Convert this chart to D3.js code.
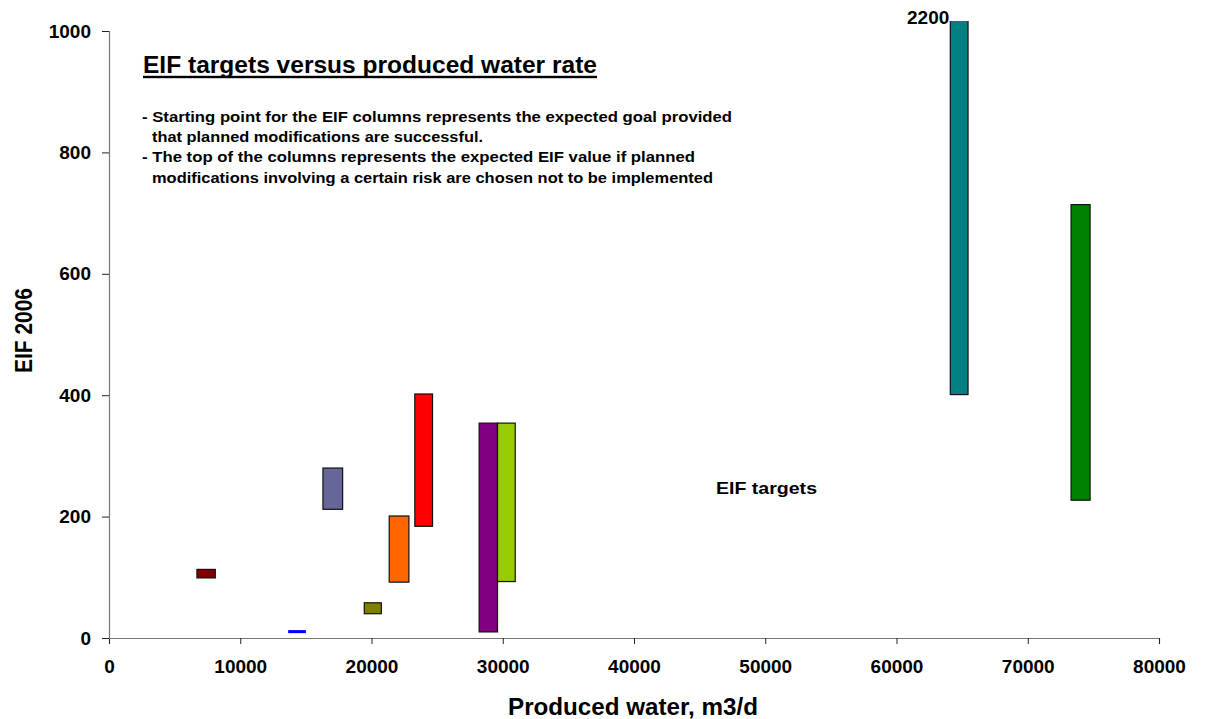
<!DOCTYPE html>
<html>
<head>
<meta charset="utf-8">
<script src="https://cdn.jsdelivr.net/npm/d3@7"></script>
<style>
  html, body { margin: 0; padding: 0; background: #fff; }
  text { font-family: Arial, "Liberation Sans", sans-serif; font-weight: bold; fill: #000; }
</style>
</head>
<body>
<svg id="chart" width="1206" height="719"></svg>
<script>
// ---- data ----
const xStart  = [6700, 13650, 16300, 19450, 21350, 23300, 28200, 29600, 64100, 73300];
const xEnd    = [8100, 15000, 17800, 20750, 22850, 24650, 29600, 30950, 65450, 74750];
const eifLow  = [99,   8,     212,   40,    92,    184,   10,    93,    401,   227];
const eifHigh = [113,  13,    280,   58,    201,   402,   354,   354,   2200,  714];
const barColors = ["#800000", "#0000FF", "#666699", "#808000", "#FF6600", "#FF0000", "#800080", "#99CC00", "#008080", "#008000"];
const barStroked = [true, false, true, true, true, true, true, true, true, true];
const xTicks = [0, 10000, 20000, 30000, 40000, 50000, 60000, 70000, 80000];
const yTicks = [0, 200, 400, 600, 800, 1000];

const titleText = "EIF targets versus produced water rate";
const noteLines = [
  "- Starting point for the EIF columns represents the expected goal provided",
  "that planned modifications are successful.",
  "- The top of the columns represents the expected EIF value if planned",
  "modifications involving a certain risk are chosen not to be implemented"
];
const xTitle = "Produced water, m3/d";
const yTitle = "EIF 2006";
const seriesLabel = "EIF targets";

// ---- layout ----
const svg = d3.select("#chart");
const margin = { left: 109, top: 31, right: 47, bottom: 81 };
const W = 1206, H = 719;
const x = d3.scaleLinear().domain([0, 80000]).range([margin.left, W - margin.right]);
const y = d3.scaleLinear().domain([0, 1000]).range([H - margin.bottom, margin.top]);

// clip (bars exceeding the axis get cut slightly above the top)
svg.append("defs").append("clipPath").attr("id", "plotClip")
  .append("rect")
  .attr("x", x(0)).attr("y", y(1000) - 10)
  .attr("width", x(80000) - x(0)).attr("height", y(0) - y(1000) + 10);

// ---- bars ----
const bars = xStart.map((d, i) => ({ x0: d, x1: xEnd[i], lo: eifLow[i], hi: eifHigh[i], c: barColors[i], s: barStroked[i] }));
svg.append("g").attr("clip-path", "url(#plotClip)")
  .selectAll("rect").data(bars).enter().append("rect")
  .attr("x", d => x(d.x0))
  .attr("y", d => y(d.hi))
  .attr("width", d => x(d.x1) - x(d.x0))
  .attr("height", d => y(d.lo) - y(d.hi))
  .attr("fill", d => d.c)
  .attr("stroke", d => d.s ? "#111" : "none")
  .attr("stroke-width", 1.2);

// label for clipped bar
bars.forEach(d => {
  if (d.hi > 1000) {
    svg.append("text")
      .attr("x", x(d.x0) - 1)
      .attr("y", y(1000) - 7)
      .attr("text-anchor", "end")
      .style("font-size", "19px")
      .text(d.hi);
  }
});

// ---- axes ----
const xAxis = d3.axisBottom(x).tickValues(xTicks).tickFormat(d3.format("d")).tickSize(6).tickPadding(16);
const gx = svg.append("g").attr("transform", `translate(0,${y(0)})`).call(xAxis);
gx.select(".domain").attr("stroke", "#777").attr("stroke-width", 1.2);
gx.selectAll(".tick line").attr("stroke", "#222");
gx.selectAll(".tick text").style("font-size", "19px").style("font-family", "Arial, 'Liberation Sans', sans-serif").style("font-weight", "bold").attr("fill", "#000");

const yAxis = d3.axisLeft(y).tickValues(yTicks).tickFormat(d3.format("d")).tickSize(7).tickPadding(11);
const gy = svg.append("g").attr("transform", `translate(${x(0)},0)`).call(yAxis);
gy.select(".domain").attr("stroke", "#777").attr("stroke-width", 1.2);
gy.selectAll(".tick line").attr("stroke", "#222");
gy.selectAll(".tick text").style("font-size", "19px").style("font-family", "Arial, 'Liberation Sans', sans-serif").style("font-weight", "bold").attr("fill", "#000");

// ---- axis titles ----
svg.append("text")
  .attr("x", 508).attr("y", 715)
  .attr("textLength", 250).attr("lengthAdjust", "spacingAndGlyphs")
  .style("font-size", "23px")
  .text(xTitle);

svg.append("text")
  .attr("transform", "translate(31.5,373) rotate(-90)")
  .attr("textLength", 85).attr("lengthAdjust", "spacingAndGlyphs")
  .style("font-size", "23px")
  .text(yTitle);

// ---- title with underline ----
svg.append("text")
  .attr("x", 143).attr("y", 72.5)
  .attr("textLength", 454).attr("lengthAdjust", "spacingAndGlyphs")
  .style("font-size", "23px")
  .text(titleText);
svg.append("rect").attr("x", 143).attr("y", 75.8).attr("width", 454).attr("height", 2.4).attr("fill", "#000");

// ---- notes ----
const noteX = [142, 152, 142, 152];
const noteY = [121.5, 142, 162, 182.5];
const noteW = [590, 331, 553, 561];
noteLines.forEach((t, i) => {
  svg.append("text")
    .attr("x", noteX[i]).attr("y", noteY[i])
    .attr("textLength", noteW[i]).attr("lengthAdjust", "spacingAndGlyphs")
    .style("font-size", "14.5px")
    .text(t);
});

// ---- series label ----
svg.append("text")
  .attr("x", 716).attr("y", 494)
  .attr("textLength", 101).attr("lengthAdjust", "spacingAndGlyphs")
  .style("font-size", "17px")
  .text(seriesLabel);
</script>
</body>
</html>
